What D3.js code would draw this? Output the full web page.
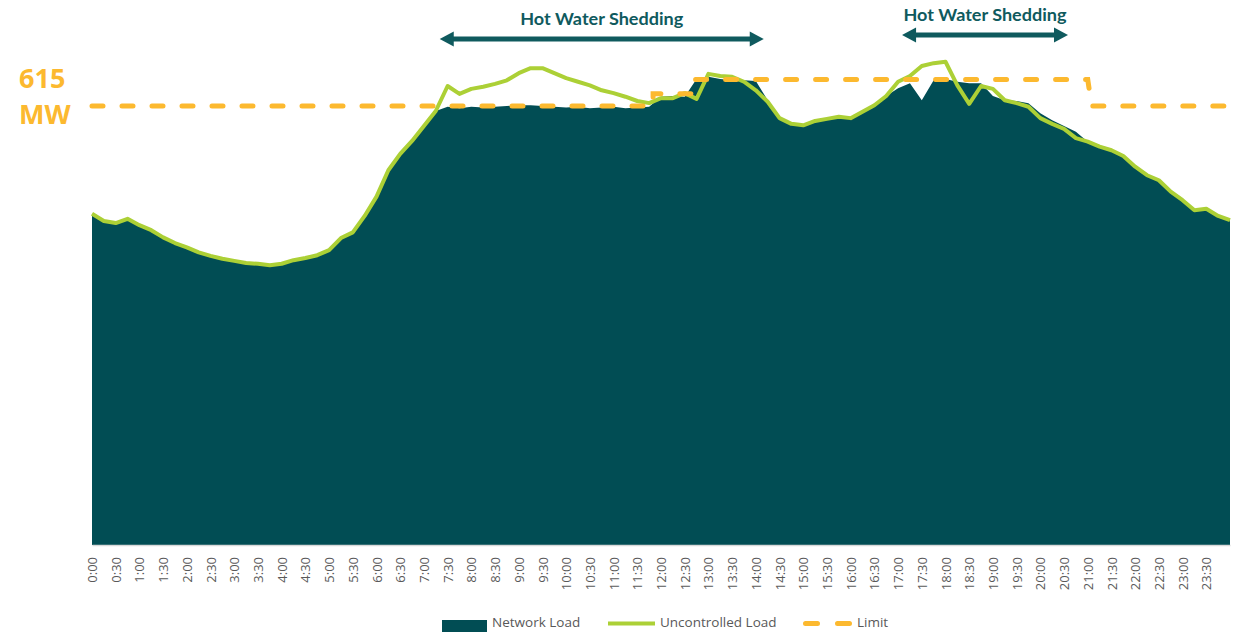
<!DOCTYPE html>
<html>
<head>
<meta charset="utf-8">
<script src="https://cdn.jsdelivr.net/npm/d3@7"></script>
<style>
    body { margin: 0; background: #fff; }
</style>
</head>
<body>
<div id="loadChart"></div>
<script>
// readings every 15 minutes, 0:00 -> 24:00 (minutes)
var times = d3.range(0, 1441, 15);

var tickLabels = ["0:00", "0:30", "1:00", "1:30", "2:00", "2:30", "3:00", "3:30", "4:00", "4:30",
    "5:00", "5:30", "6:00", "6:30", "7:00", "7:30", "8:00", "8:30", "9:00", "9:30",
    "10:00", "10:30", "11:00", "11:30", "12:00", "12:30", "13:00", "13:30", "14:00", "14:30",
    "15:00", "15:30", "16:00", "16:30", "17:00", "17:30", "18:00", "18:30", "19:00", "19:30",
    "20:00", "20:30", "21:00", "21:30", "22:00", "22:30", "23:00", "23:30"];

// MW
var networkLoad = [464, 454, 451, 457, 448, 441, 431, 423, 417, 410, 405, 401, 398, 395, 394, 392,
    394, 399, 402, 406, 413, 430, 438, 461, 488, 525, 548, 566, 587, 608, 614, 612,
    614, 613, 614, 615, 616, 616, 615, 614, 613, 614, 612, 613, 614, 612, 613, 614,
    628, 629, 628, 653, 656, 653, 651, 651, 650, 623, 598, 590, 588, 594, 597, 600,
    598, 607, 616, 629, 640, 647, 623, 651, 653, 649, 647, 647, 629, 623, 622, 619,
    605, 595, 587, 579, 565, 558, 553, 545, 530, 518, 511, 495, 483, 469, 471, 461, 455];

var uncontrolledLoad = [464, 454, 451, 457, 448, 441, 431, 423, 417, 410, 405, 401, 398, 395, 394, 392,
    394, 399, 402, 406, 413, 430, 438, 461, 488, 525, 548, 566, 587, 608, 643, 632,
    639, 642, 646, 651, 661, 668, 668, 661, 654, 649, 644, 637, 633, 628, 622, 619,
    626, 626, 633, 625, 660, 657, 656, 649, 637, 621, 598, 590, 588, 594, 597, 600,
    598, 607, 616, 629, 649, 657, 671, 675, 677, 644, 618, 643, 639, 623, 619, 614,
    598, 590, 583, 570, 565, 558, 553, 545, 530, 518, 511, 495, 483, 469, 471, 461, 455];

var limitTimes = ["0:00", "11:50", "11:50", "12:40", "12:40", "21:00", "21:05", "24:00"];
var limitValues = [615, 615, 632, 632, 652, 652, 615, 615];

var sheddingFrom = ["7:20", "17:05"];
var sheddingTo = ["14:10", "20:35"];
var sheddingLabel = "Hot Water Shedding";

var legendNames = ["Network Load", "Uncontrolled Load", "Limit"];

var teal = "#014d54",
    lime = "#acd036",
    gold = "#fcb92f",
    arrowCol = "#0f5a5e";

function toMin(s) {
    var p = s.split(":");
    return +p[0] * 60 + +p[1];
}

var width = 1234,
    height = 632;

var svg = d3.select("#loadChart")
    .append("svg")
    .attr("width", width)
    .attr("height", height)
    .style("font-family", "'Open Sans', sans-serif");

var x = d3.scaleLinear()
    .domain([0, 1440])
    .range([92, 1230]);

var y = d3.scaleLinear()
    .domain([0, 615])
    .range([545, 106]);

// network load area
var area = d3.area()
    .x(function (d, i) { return x(times[i]); })
    .y0(y(0))
    .y1(function (d) { return y(d); });

svg.append("path")
    .datum(networkLoad)
    .attr("fill", teal)
    .attr("d", area);

// uncontrolled load line
var line = d3.line()
    .x(function (d, i) { return x(times[i]); })
    .y(function (d) { return y(d); });

svg.append("path")
    .datum(uncontrolledLoad)
    .attr("fill", "none")
    .attr("stroke", lime)
    .attr("stroke-width", 4)
    .attr("stroke-linejoin", "round")
    .attr("d", line);

// limit
var limitLine = d3.line()
    .x(function (d, i) { return x(toMin(limitTimes[i])); })
    .y(function (d) { return y(d); });

svg.append("path")
    .datum(limitValues)
    .attr("fill", "none")
    .attr("stroke", gold)
    .attr("stroke-width", 5)
    .attr("stroke-linecap", "round")
    .attr("stroke-dasharray", "11,19")
    .attr("d", limitLine);

// x axis
var xAxis = d3.axisBottom(x)
    .tickValues(tickLabels.map(toMin))
    .tickFormat(function (d, i) { return tickLabels[i]; })
    .tickSize(0)
    .tickSizeOuter(0);

var gx = svg.append("g")
    .attr("transform", `translate(0, ${y(0)})`)
    .call(xAxis);

gx.select(".domain").attr("stroke", "#d9d9d9").attr("stroke-width", 1.5);
gx.selectAll("text")
    .attr("transform", "rotate(-90)")
    .attr("x", -12)
    .attr("y", 0)
    .attr("dy", "0.35em")
    .attr("text-anchor", "end")
    .attr("fill", "#595959")
    .style("font-family", "'Open Sans', sans-serif")
    .style("font-size", "13px");

// 615 MW label
var mwLabel = svg.append("text")
    .attr("fill", gold)
    .attr("font-weight", "bold")
    .attr("font-size", 27);
mwLabel.append("tspan").attr("x", 19).attr("y", 88).text(limitValues[0]);
mwLabel.append("tspan").attr("x", 19).attr("y", 124).text("MW");

// hot water shedding arrows
var arrowY = [39, 35],
    labelY = [25, 21];

sheddingFrom.forEach(function (f, i) {
    var x0 = x(toMin(f)),
        x1 = x(toMin(sheddingTo[i])),
        ay = arrowY[i],
        head = 14,
        half = 7.5;

    svg.append("line")
        .attr("x1", x0 + head - 2)
        .attr("x2", x1 - head + 2)
        .attr("y1", ay)
        .attr("y2", ay)
        .attr("stroke", arrowCol)
        .attr("stroke-width", 5);

    svg.append("path")
        .attr("fill", arrowCol)
        .attr("d", `M${x0},${ay} L${x0 + head},${ay - half} L${x0 + head},${ay + half} Z`);
    svg.append("path")
        .attr("fill", arrowCol)
        .attr("d", `M${x1},${ay} L${x1 - head},${ay - half} L${x1 - head},${ay + half} Z`);

    svg.append("text")
        .attr("x", (x0 + x1) / 2)
        .attr("y", labelY[i])
        .attr("text-anchor", "middle")
        .attr("fill", arrowCol)
        .attr("font-weight", "bold")
        .attr("font-size", 17)
        .style("font-family", "Lato, sans-serif")
        .attr("textLength", 163)
        .attr("lengthAdjust", "spacingAndGlyphs")
        .text(sheddingLabel);
});

// legend
var legend = svg.append("g")
    .attr("font-size", 13.5)
    .attr("fill", "#595959");

legend.append("rect")
    .attr("x", 442).attr("y", 620)
    .attr("width", 45).attr("height", 12)
    .attr("fill", teal);
legend.append("text").attr("x", 492).attr("y", 627).text(legendNames[0]);

legend.append("line")
    .attr("x1", 608).attr("x2", 655)
    .attr("y1", 623.5).attr("y2", 623.5)
    .attr("stroke", lime).attr("stroke-width", 4);
legend.append("text").attr("x", 660).attr("y", 627).text(legendNames[1]);

legend.append("line")
    .attr("x1", 805.5).attr("x2", 849.5)
    .attr("y1", 623.5).attr("y2", 623.5)
    .attr("stroke", gold).attr("stroke-width", 5)
    .attr("stroke-linecap", "round")
    .attr("stroke-dasharray", "12,20");
legend.append("text").attr("x", 857).attr("y", 627).text(legendNames[2]);
</script>
</body>
</html>
